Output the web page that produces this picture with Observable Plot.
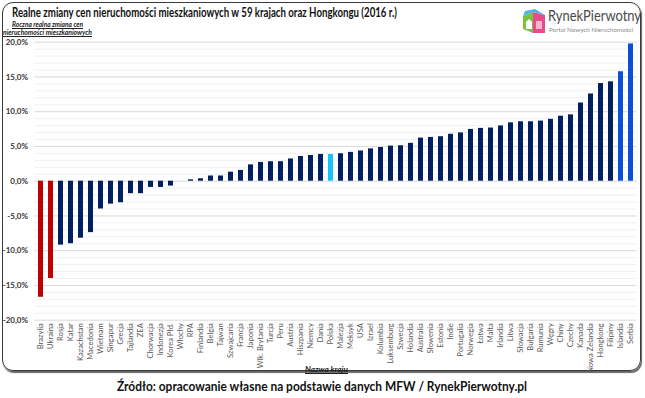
<!DOCTYPE html>
<html>
<head>
<meta charset="utf-8">
<script src="https://cdn.jsdelivr.net/npm/d3@7"></script>
<script src="https://cdn.jsdelivr.net/npm/@observablehq/plot@0.6"></script>
<style>
  html, body { margin: 0; padding: 0; background: #fff; }
  #wrap { position: relative; width: 645px; height: 398px; overflow: hidden; font-family: Lato, "Open Sans", sans-serif; }
  #frame { position: absolute; left: 2px; top: 2px; width: 637px; height: 367px; border: 1.6px solid #3a3a3a; border-radius: 11px; box-shadow: 1px 2px 1px #666; }
  .fit { position: absolute; white-space: nowrap; transform-origin: 0 0; }
  #title { left: 12px; top: 5px; font-size: 13.8px; line-height: 14px; font-weight: 700; color: #111; }
  .yt { font-size: 8px; line-height: 8.3px; font-weight: 700; font-style: italic; text-decoration: underline; color: #222; }
  #yt1 { left: 12px; top: 19.5px; }
  #yt2 { left: 3px; top: 28px; }
  #xtitle { left: 305px; top: 365px; font-size: 8px; line-height: 9px; font-weight: 700; font-style: italic; text-decoration: underline; color: #222; }
  #caption { left: 117px; top: 378px; font-size: 12.8px; font-weight: 700; color: #111; }
  #logo { position: absolute; left: 521px; top: 7px; }
  #logoname { left: 548px; top: 7px; font-size: 14.5px; line-height: 17px; color: #4a4a4a; }
  #logosub { left: 549px; top: 26px; font-size: 6.3px; line-height: 7px; color: #8a8a8a; }
  #chart { position: absolute; left: 0; top: 0; }
  #chart svg text { font-family: Lato, "Open Sans", sans-serif; }
</style>
</head>
<body>
<div id="wrap">
  <div id="frame"></div>
  <div id="chart"></div>
  <div id="title" class="fit" data-w="385">Realne zmiany cen nieruchomości mieszkaniowych w 59 krajach oraz Hongkongu (2016 r.)</div>
  <div id="yt1" class="fit yt" data-w="71">Roczna realna zmiana cen</div>
  <div id="yt2" class="fit yt" data-w="89">nieruchomości mieszkaniowych</div>
  <div id="xtitle" class="fit" data-w="43">Nazwa kraju</div>
  <svg id="logo" width="27" height="28" viewBox="0 0 27 28">
    <polygon points="2,9 12,5 12,26 2,22" fill="#7cc242"/>
    <polygon points="12,5 24,8 24,26 12,26" fill="#e84a8a"/>
    <polygon points="2,9 12,5 24,8 14,2 4,4" fill="#4fb3e8"/>
    <polygon points="5,15 8,12 11,15 11,22 5,22" fill="#fff"/>
    <polygon points="15,14 21,14 21,22 15,22" fill="#fff" opacity="0.6"/>
  </svg>
  <div id="logoname" class="fit" data-w="93">RynekPierwotny</div>
  <div id="logosub" class="fit" data-w="84">Portal Nowych Nieruchomości</div>
  <div id="caption" class="fit" data-w="410">Źródło: opracowanie własne na podstawie danych MFW / RynekPierwotny.pl</div>
</div>
<script>
const countries = ["Brazylia","Ukraina","Rosja","Katar","Kazachstan","Macedonia","Wietnam","Singapur","Grecja","Tajlandia","ZEA","Chorwacja","Indonezja","Korea Płd.","Włochy","RPA","Finlandia","Belgia","Tajwan","Szwajcaria","Francja","Japonia","Wlk. Brytania","Turcja","Peru","Austria","Hiszpania","Niemcy","Dania","Polska","Malezja","Meksyk","USA","Izrael","Kolumbia","Luksemburg","Szwecja","Holandia","Australia","Słowenia","Estonia","Indie","Portugalia","Norwegia","Łotwa","Malta","Irlandia","Litwa","Słowacja","Bułgaria","Rumunia","Węgry","Chiny","Czechy","Kanada","Nowa Zelandia","Hongkong","Filipiny","Islandia","Serbia"];
const values = [-16.7,-14.0,-9.2,-9.0,-8.2,-7.4,-4.0,-3.3,-3.1,-1.8,-1.8,-0.9,-0.9,-0.7,0.0,0.2,0.35,0.75,0.75,1.3,1.55,2.35,2.7,2.8,2.8,3.2,3.55,3.7,3.85,3.85,3.95,4.15,4.35,4.65,4.85,5.05,5.1,5.45,6.2,6.3,6.4,6.75,6.95,7.45,7.6,7.65,7.95,8.4,8.55,8.55,8.65,8.9,9.35,9.55,11.25,12.55,14.05,14.3,15.75,19.75];
const redCountries = ["Brazylia","Ukraina"];
const highlightCountries = ["Polska"];
const blueCountries = ["Islandia","Serbia"];
const yTicks = [-20,-15,-10,-5,0,5,10,15,20];
const yMinor = d3.range(-20, 21, 1);

const data = countries.map((c, i) => ({country: c, value: values[i]}));
const colorOf = c => redCountries.includes(c) ? "#c00000"
  : highlightCountries.includes(c) ? "#16c3f7"
  : blueCountries.includes(c) ? "#0a4fd6" : "#002060";

const plot = Plot.plot({
  width: 645,
  height: 380,
  marginLeft: 34.5,
  marginRight: 8.7,
  marginTop: 41.7,
  marginBottom: 60.3,
  x: {domain: countries, paddingInner: 0.5, paddingOuter: 0.25, label: null},
  y: {domain: [-20, 20], label: null},
  marks: [
    Plot.ruleY(yMinor.filter(d => d % 5 !== 0), {stroke: "#f0f0f0", strokeWidth: 1}),
    Plot.ruleY(yTicks, {stroke: "#d9d9d9", strokeWidth: 1}),
    Plot.barY(data, {x: "country", y: "value", fill: d => colorOf(d.country)}),
    Plot.axisY({ticks: yTicks, tickSize: 0, tickPadding: 7, label: null,
      tickFormat: d => d.toFixed(1).replace(".", ",") + "%",
      fontSize: 8, fontWeight: "bold", fill: "#333"}),
    Plot.axisX({tickSize: 0, tickPadding: 3, tickRotate: -90, label: null,
      fontSize: 7.6, fill: "#595959"})
  ]
});
document.getElementById("chart").appendChild(plot);

document.querySelectorAll(".fit").forEach(el => {
  const target = +el.dataset.w;
  const w = el.getBoundingClientRect().width;
  if (w > 0) el.style.transform = `scaleX(${target / w})`;
});
</script>
</body>
</html>
